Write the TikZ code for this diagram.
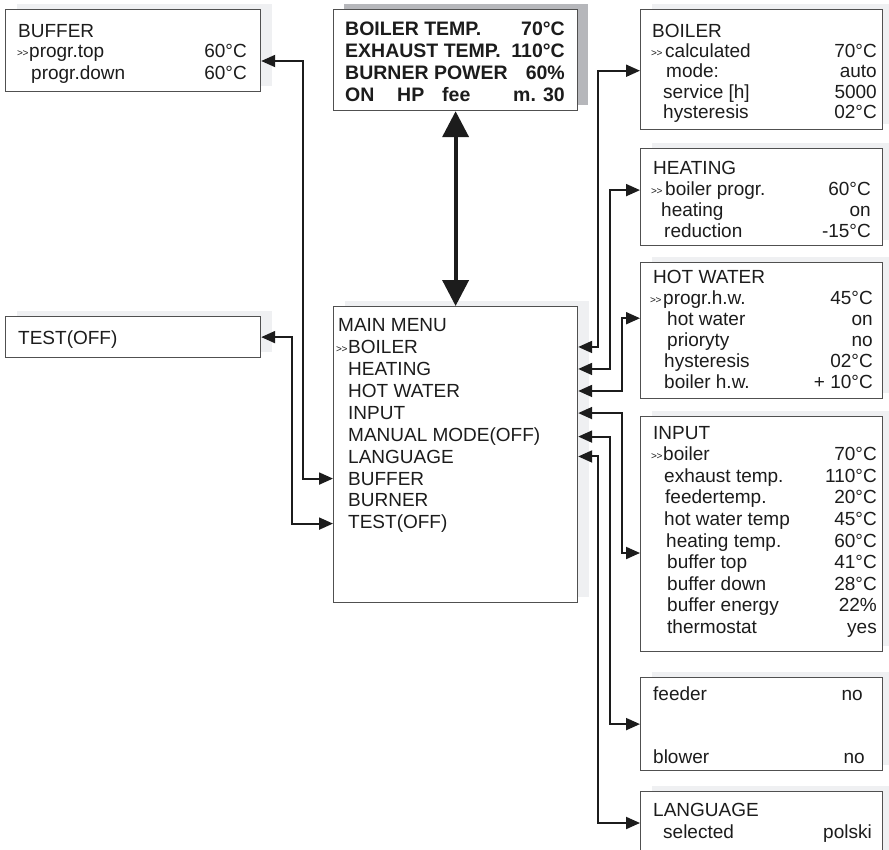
\documentclass[tikz,border=0pt]{standalone}
\usepackage{fontspec}
\setmainfont{Liberation Sans}
\usetikzlibrary{arrows.meta,shadows}
\definecolor{edgecol}{HTML}{505050}
\definecolor{shlight}{HTML}{EFF0F2}
\definecolor{shdark}{HTML}{B6B7BB}
\definecolor{ink}{HTML}{1C1C1C}
\tikzset{
  box/.style={draw=edgecol, line width=1.2pt, fill=white, anchor=north west, inner sep=0pt,
    general shadow={fill=shlight, shadow xshift=11pt, shadow yshift=6pt}},
  darkbox/.style={draw=edgecol, line width=1.2pt, fill=white, anchor=north west, inner sep=0pt,
    general shadow={fill=shdark, shadow xshift=10pt, shadow yshift=6pt}},
  txt/.style={inner sep=0pt, font=\fontsize{19}{22}\selectfont, text=ink},
  btxt/.style={inner sep=0pt, font=\fontsize{19.5}{22}\selectfont\bfseries, text=ink},
  chev/.style={inner sep=0pt, font=\fontsize{10}{10}\selectfont, text=ink, anchor=base west},
  conn/.style={line width=2pt, draw=ink, {Triangle[length=14pt,width=12pt]}-{Triangle[length=14pt,width=12pt]}},
  bigarr/.style={line width=4pt, draw=ink, {Triangle[length=26pt,width=26pt]}-{Triangle[length=26pt,width=26pt]}},
}
\newcommand\rowl[4]{\node[txt,anchor=base west] (#1) at (#2,#3) {#4};}
\newcommand\rowlr[6]{\node[txt,anchor=base west] (#1) at (#2,#4) {#5};
  \node[txt,anchor=base east] (#1v) at (#3,#4) {#6};}
\newcommand\chevs{>\kern-0.5pt>}
\begin{document}
\begin{tikzpicture}[x=1pt,y=-1pt]
\useasboundingbox (0,0) rectangle (889,849);
\fill[white] (0,0) rectangle (889,849);
\clip (0,0) rectangle (889,849);

% ---------- boxes ----------
\node[box, minimum width=255pt, minimum height=82pt] (buffer) at (5,9) {};
\node[darkbox, minimum width=244pt, minimum height=101pt] (status) at (333,9) {};
\node[box, minimum width=242pt, minimum height=120pt] (boiler) at (640,9) {};
\node[box, minimum width=242pt, minimum height=97pt] (heating) at (640,148) {};
\node[box, minimum width=242pt, minimum height=136pt] (hotw) at (640,262) {};
\node[box, minimum width=255pt, minimum height=41pt] (test) at (5,316) {};
\node[box, minimum width=244pt, minimum height=296pt] (mm) at (333,306) {};
\node[box, minimum width=242pt, minimum height=235pt] (input) at (640,416) {};
\node[box, minimum width=242pt, minimum height=93pt] (feeder) at (640,677) {};
\node[box, minimum width=242pt, minimum height=120pt] (lang) at (640,791) {};

% ---------- BUFFER ----------
\rowl{bufT}{18}{37}{BUFFER}
\node[chev] (bufC) at (17,56) {\chevs};
\rowlr{bufTop}{29}{247}{57}{progr.top}{60°C}
\rowlr{bufDown}{31}{247}{79}{progr.down}{60°C}

% ---------- status ----------
\node[btxt,anchor=base west] (s1) at (345,35) {BOILER TEMP.};
\node[btxt,anchor=base east] (s1v) at (565,35) {70°C};
\node[btxt,anchor=base west] (s2) at (345,57) {EXHAUST TEMP.};
\node[btxt,anchor=base east] (s2v) at (565,57) {110°C};
\node[btxt,anchor=base west] (s3) at (345,79) {BURNER POWER};
\node[btxt,anchor=base east] (s3v) at (565,79) {60\%};
\node[btxt,anchor=base west] (s4a) at (345,101) {ON};
\node[btxt,anchor=base west] (s4b) at (397,101) {HP};
\node[btxt,anchor=base west] (s4c) at (442,101) {fee};
\node[btxt,anchor=base west] (s4d) at (513,101) {m.};
\node[btxt,anchor=base east] (s4e) at (565,101) {30};

% ---------- BOILER ----------
\rowl{boT}{652}{37}{BOILER}
\node[chev] (boC) at (651,56) {\chevs};
\rowlr{boCalc}{665}{877}{57}{calculated}{70°C}
\rowlr{boMode}{666}{877}{77.5}{mode:}{auto}
\rowlr{boServ}{663}{877}{98}{service [h]}{5000}
\rowlr{boHyst}{663}{877}{118.5}{hysteresis}{02°C}

% ---------- HEATING ----------
\rowl{heT}{653}{174}{HEATING}
\node[chev] (heC) at (651,194) {\chevs};
\rowlr{heBoil}{665}{871}{195}{boiler progr.}{60°C}
\rowlr{heHeat}{661}{871}{216}{heating}{on}
\rowlr{heRed}{664}{871}{237}{reduction}{-15°C}

% ---------- HOT WATER ----------
\rowl{hwT}{653}{283}{HOT WATER}
\node[chev] (hwC) at (650,303) {\chevs};
\rowlr{hwProg}{663}{873}{304}{progr.h.w.}{45°C}
\rowlr{hwHot}{667}{873}{325}{hot water}{on}
\rowlr{hwPrio}{667}{873}{346}{prioryty}{no}
\rowlr{hwHyst}{664}{873}{367}{hysteresis}{02°C}
\rowlr{hwBoil}{664}{873}{388}{boiler h.w.}{+ 10°C}

% ---------- TEST ----------
\rowl{teT}{18}{344}{TEST(OFF)}

% ---------- MAIN MENU ----------
\rowl{mmT}{338}{331}{MAIN MENU}
\node[chev] (mmC) at (336,352.5) {\chevs};
\rowl{mBoil}{348}{353.5}{BOILER}
\rowl{mHeat}{348}{375.5}{HEATING}
\rowl{mHot}{348}{397.5}{HOT WATER}
\rowl{mIn}{348}{419.5}{INPUT}
\rowl{mMan}{348}{441.5}{MANUAL MODE(OFF)}
\rowl{mLang}{348}{463}{LANGUAGE}
\rowl{mBuf}{348}{485}{BUFFER}
\rowl{mBurn}{348}{506.5}{BURNER}
\rowl{mTest}{348}{528.5}{TEST(OFF)}

% ---------- INPUT ----------
\rowl{inT}{653}{439}{INPUT}
\node[chev] (inC) at (651,459.6) {\chevs};
\rowlr{inBoil}{663}{877}{460.6}{boiler}{70°C}
\rowlr{inExh}{664}{877}{482.2}{exhaust temp.}{110°C}
\rowlr{inFeed}{665}{877}{503.8}{feedertemp.}{20°C}
\rowlr{inHw}{664}{877}{525.4}{hot water temp}{45°C}
\rowlr{inHeat}{666}{877}{547}{heating temp.}{60°C}
\rowlr{inBt}{667}{877}{568.6}{buffer top}{41°C}
\rowlr{inBd}{667}{877}{590.2}{buffer down}{28°C}
\rowlr{inBe}{667}{877}{611.8}{buffer energy}{22\%}
\rowlr{inTh}{667}{877}{633.4}{thermostat}{yes}

% ---------- feeder / blower ----------
\rowlr{feF}{653}{863}{700}{feeder}{no}
\rowlr{feB}{653}{865}{763}{blower}{no}

% ---------- LANGUAGE ----------
\rowl{laT}{653}{816}{LANGUAGE}
\rowlr{laSel}{663}{872}{838}{selected}{polski}

% ---------- connector end points ----------
\coordinate (bufArr) at (260,61);
\coordinate (inArr) at (640,553);
\coordinate (laArr) at (640,823);

% ---------- connectors ----------
\draw[bigarr] (status.south) -- (mm.north);
\draw[conn] (mm.east |- mBoil) -- ++(20,0) |- (boiler.west |- boMode);
\draw[conn] (mm.east |- mHeat) -- ++(32,0) |- (heating.west |- heBoil);
\draw[conn] (mm.east |- mHot) -- ++(44,0) |- (hotw.west |- hwHot);
\draw[conn] (mm.east |- mIn) -- ++(44,0) |- (input.west |- inArr);
\draw[conn] (mm.east |- mMan) -- ++(32,0) |- (feeder.west);
\draw[conn] (mm.east |- mLang) -- ++(20,0) |- (lang.west |- laArr);
\draw[conn] (mm.west |- mBuf) -- ++(-30,0) |- (buffer.east |- bufArr);
\draw[conn] (mm.west |- mTest) -- ++(-41,0) |- (test.east);
\end{tikzpicture}
\end{document}
